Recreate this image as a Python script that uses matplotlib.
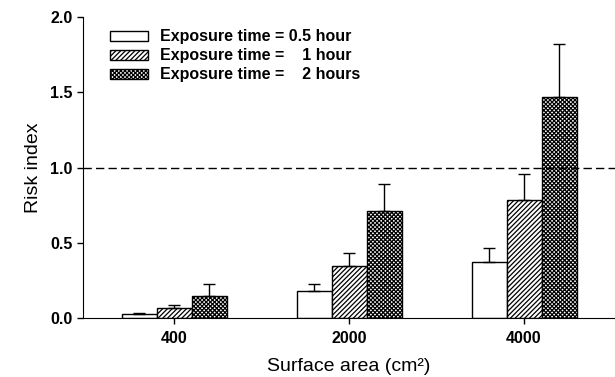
import matplotlib
matplotlib.use("Agg")
import matplotlib.pyplot as plt
import numpy as np

plt.rcParams['font.family'] = ['Liberation Sans', 'DejaVu Sans']
plt.rcParams['hatch.linewidth'] = 0.9

# Surface areas and risk index for each exposure time
areas = ['400', '2000', '4000']
labels = ['Exposure time = 0.5 hour', 'Exposure time =    1 hour', 'Exposure time =    2 hours']
risk_05h = [0.03, 0.18, 0.375]
risk_1h = [0.07, 0.345, 0.785]
risk_2h = [0.145, 0.715, 1.47]
err_05h = [0.005, 0.05, 0.09]
err_1h = [0.02, 0.085, 0.175]
err_2h = [0.085, 0.175, 0.35]

fig = plt.figure(figsize=(6.15, 3.77), dpi=100)
ax = fig.add_axes([0.135, 0.156, 0.865, 0.799])

ind = np.arange(len(areas))
width = 0.2
styles = [dict(facecolor='white', hatch=None),
          dict(facecolor='white', hatch='///////'),
          dict(facecolor='white', hatch='xxxxxxxx')]
series = [(risk_05h, err_05h), (risk_1h, err_1h), (risk_2h, err_2h)]

for i, ((vals, errs), st, lab) in enumerate(zip(series, styles, labels)):
    ax.bar(ind + (i - 1) * width, vals, width, yerr=[np.zeros(len(errs)), errs],
           edgecolor='black', linewidth=1.0, label=lab,
           error_kw=dict(ecolor='black', elinewidth=1.0, capsize=4.5, capthick=1.0),
           **st)

# Reference line at risk index = 1
ax.axhline(1.0, color='black', linestyle=(0, (6, 3)), linewidth=1.0)

ax.set_xlim(-0.52, 2.52)
ax.set_ylim(0, 2.0)
ax.set_xticks(ind)
ax.set_xticklabels(areas, fontweight='bold', fontsize=11.5)
ax.set_yticks(np.arange(0, 2.01, 0.5))
ax.set_yticklabels(['%.1f' % v for v in np.arange(0, 2.01, 0.5)], fontweight='bold', fontsize=11.5)
ax.tick_params(direction='out', length=4, width=1)
ax.tick_params(axis='x', pad=5)

ax.spines['top'].set_visible(False)
ax.spines['right'].set_visible(False)

ax.set_ylabel('Risk index', fontsize=14, labelpad=6)
ax.set_xlabel('Surface area (cm\u00b2)', fontsize=14, labelpad=9)

ax.legend(loc='upper left', frameon=False, prop=dict(weight='bold', size=11.5),
          handlelength=2.4, handleheight=0.55, labelspacing=0.25,
          borderpad=0, borderaxespad=0, handletextpad=0.7,
          bbox_to_anchor=(0.179, 0.922), bbox_transform=fig.transFigure)

fig.savefig('out.png', dpi=100)
